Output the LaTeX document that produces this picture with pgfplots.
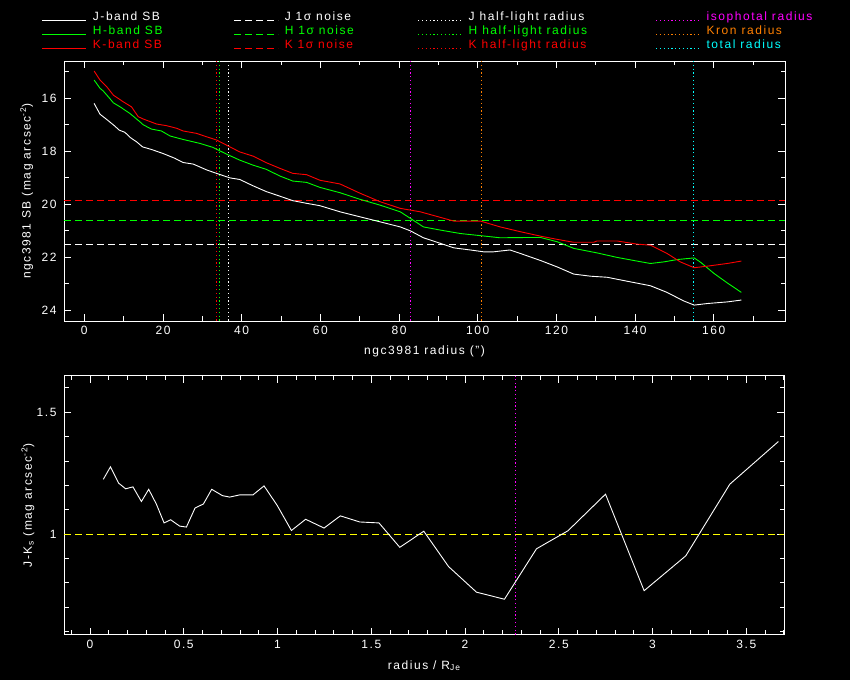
\documentclass[border=0pt]{standalone}
\usepackage{pgfplots}
\pgfplotsset{compat=1.18}
\usepackage{fontspec}
\setmainfont{Liberation Sans}[LetterSpace=13]
\definecolor{korange}{RGB}{255,128,0}
\definecolor{kmagenta}{RGB}{255,0,255}
\definecolor{kcyan}{RGB}{0,255,255}
\definecolor{kyellow}{RGB}{255,255,0}
\definecolor{kgreen}{RGB}{0,255,0}
\definecolor{kred}{RGB}{255,0,0}
\newcommand\pg{\fontsize{12bp}{14bp}\selectfont}
\newcommand\LE[3]{\makebox[#1][l]{\hspace{6bp}\textcolor{#2}{#3}}}
\pgfplotsset{
  pgstyle/.style={
    scale only axis, anchor=south west,
    axis background/.style={fill=black},
    axis line style={white, line width=0.8bp},
    tick style={white, line width=0.8bp},
    major tick length=7bp, minor tick length=4.5bp,
    tick align=inside,
    ticklabel style={white, font=\pg},
    /pgf/number format/assume math mode=true,
    label style={white, font=\pg},
    xticklabel style={yshift=-2bp},
    yticklabel style={xshift=-4bp},
  }
}
\tikzset{
  noise/.style={line width=0.9bp, dash pattern=on 7bp off 4bp},
  rad/.style={line width=0.9bp, dash pattern=on 1.2bp off 2.6bp},
  sb/.style={line width=0.9bp},
}
\begin{document}
\begin{tikzpicture}
\fill[black] (0,0) rectangle (850bp,680bp);
\begin{axis}[pgstyle,
  at={(64bp,359bp)}, width=721bp, height=260bp,
  xmin=-5.16, xmax=178.1, ymin=14.59, ymax=24.4, y dir=reverse,
  xtick={-20,0,...,180}, minor x tick num=1,
  ytick={14,16,...,26}, minor y tick num=1,
  xlabel={ngc3981 radius (")},
  ylabel={ngc3981 SB (mag arcsec\textsuperscript{-2})},
  xlabel style={at={(axis description cs:0.5,-0.118)}, anchor=center},
  ylabel style={at={(axis description cs:-0.0517,0.5)}, anchor=center},
  legend columns=4,
  legend cell align=left,
  legend style={at={(axis description cs:-0.0305,1.19)}, anchor=north west,
    draw=none, fill=none, inner sep=0pt, outer sep=0pt, font=\pg,
    nodes={inner sep=0pt, text height=9bp, text depth=3bp},
    column sep=0pt, row sep=2bp},
  legend image code/.code={\draw[#1] (0bp,-3bp) -- (44bp,-3bp);},
]
\addlegendimage{sb, white}\addlegendentry{\LE{147bp}{white}{J-band SB}}
\addlegendimage{noise, white}\addlegendentry{\LE{139bp}{white}{J 1σ noise}}
\addlegendimage{rad, white}\addlegendentry{\LE{193bp}{white}{J half-light radius}}
\addlegendimage{rad, kmagenta}\addlegendentry{\LE{120bp}{kmagenta}{isophotal radius}}
\addlegendimage{sb, kgreen}\addlegendentry{\LE{147bp}{kgreen}{H-band SB}}
\addlegendimage{noise, kgreen}\addlegendentry{\LE{139bp}{kgreen}{H 1σ noise}}
\addlegendimage{rad, kgreen}\addlegendentry{\LE{193bp}{kgreen}{H half-light radius}}
\addlegendimage{rad, korange}\addlegendentry{\LE{120bp}{korange}{Kron radius}}
\addlegendimage{sb, kred}\addlegendentry{\LE{147bp}{kred}{K-band SB}}
\addlegendimage{noise, kred}\addlegendentry{\LE{139bp}{kred}{K 1σ noise}}
\addlegendimage{rad, kred}\addlegendentry{\LE{193bp}{kred}{K half-light radius}}
\addlegendimage{rad, kcyan}\addlegendentry{\LE{120bp}{kcyan}{total radius}}
% noise levels
\addplot[noise, white, forget plot] coordinates {(-5.16,21.51) (178.1,21.51)};
\addplot[noise, kgreen, forget plot] coordinates {(-5.16,20.60) (178.1,20.60)};
\addplot[noise, kred, forget plot] coordinates {(-5.16,19.85) (178.1,19.85)};
% radii
\addplot[rad, white, forget plot] coordinates {(36.63,14.59) (36.63,24.4)};
\addplot[rad, kgreen, forget plot] coordinates {(34.34,14.59) (34.34,24.4)};
\addplot[rad, kred, forget plot] coordinates {(33.58,14.59) (33.58,24.4)};
\addplot[rad, kmagenta, forget plot] coordinates {(82.93,14.59) (82.93,24.4)};
\addplot[rad, korange, forget plot] coordinates {(101.0,14.59) (101.0,24.4)};
\addplot[rad, kcyan, forget plot] coordinates {(154.9,14.59) (154.9,24.4)};
% J band
\addplot[sb, white, forget plot] coordinates {
(2.5,16.19)(4.0,16.6)(5.3,16.75)(7.4,17.0)(8.9,17.2)(10.3,17.28)(11.8,17.49)(13.3,17.64)(14.8,17.83)(17.1,17.93)(20.0,18.08)(23.0,18.26)(25.1,18.42)(27.7,18.48)(31.1,18.70)(33.6,18.83)(37.0,19.0)(39.5,19.06)(42.9,19.3)(46.3,19.52)(49.7,19.69)(53.0,19.86)(56.5,19.96)(59.9,20.05)(65.0,20.28)(70.1,20.47)(75.2,20.66)(80.3,20.85)(82.9,21.0)(86.2,21.26)(90.5,21.47)(93.9,21.64)(98.1,21.72)(101.5,21.79)(104.0,21.79)(108.2,21.72)(110.8,21.85)(116.0,22.12)(120.2,22.36)(124.4,22.63)(128.7,22.71)(132.9,22.75)(138.0,22.9)(143.9,23.07)(148.1,23.32)(152.3,23.64)(155.0,23.8)(158.4,23.74)(163.4,23.68)(167.0,23.61)
};
% H band
\addplot[sb, kgreen, forget plot] coordinates {
(2.5,15.31)(4.0,15.62)(4.8,15.72)(6.1,15.94)(7.4,16.17)(9.1,16.32)(11.6,16.57)(14.1,16.88)(15.0,17.0)(17.1,17.16)(19.6,17.23)(21.8,17.42)(25.1,17.55)(29.4,17.70)(32.7,17.85)(36.1,18.10)(39.5,18.33)(42.9,18.52)(46.3,18.68)(49.7,18.93)(53.0,19.12)(56.5,19.17)(59.9,19.36)(65.0,19.56)(70.1,19.81)(75.2,20.03)(80.3,20.28)(82.9,20.53)(86.2,20.85)(90.5,20.97)(95.6,21.1)(100.7,21.18)(105.7,21.26)(112.5,21.25)(116.0,21.25)(120.2,21.41)(124.4,21.66)(130.3,21.83)(135.4,22.0)(140.5,22.14)(143.9,22.23)(147.3,22.17)(150.8,22.08)(155.0,22.02)(156.7,22.19)(160.0,22.6)(163.4,22.96)(167.0,23.32)
};
% K band
\addplot[sb, kred, forget plot] coordinates {
(2.5,14.97)(4.0,15.31)(5.7,15.56)(7.4,15.88)(9.9,16.13)(12.0,16.32)(13.7,16.69)(15.0,16.78)(18.4,16.97)(20.9,17.03)(23.5,17.13)(25.1,17.23)(28.5,17.32)(31.1,17.45)(33.6,17.57)(37.0,17.83)(39.5,18.02)(42.9,18.18)(46.3,18.43)(49.7,18.64)(53.0,18.83)(56.5,18.88)(59.9,19.09)(65.0,19.23)(70.1,19.58)(75.2,19.9)(80.3,20.15)(85.4,20.28)(90.5,20.49)(93.9,20.63)(100.7,20.63)(105.7,20.85)(110.8,21.03)(116.0,21.2)(120.2,21.32)(124.4,21.43)(129.5,21.43)(130.3,21.38)(135.4,21.38)(140.5,21.5)(143.9,21.54)(148.1,21.85)(151.5,22.17)(155.0,22.39)(158.4,22.33)(163.4,22.23)(167.0,22.14)
};
\end{axis}
\begin{axis}[pgstyle,
  at={(64bp,45.3bp)}, width=720.4bp, height=259bp,
  xmin=-0.1387, xmax=3.703, ymin=0.5875, ymax=1.65,
  xtick={-0.5,0,0.5,...,4}, minor x tick num=4,
  ytick={0.5,1,1.5,2}, minor y tick num=4,
  xlabel={radius / R\textsubscript{Je}},
  ylabel={J-K\textsubscript{s} (mag arcsec\textsuperscript{-2})},
  xlabel style={at={(axis description cs:0.5,-0.12)}, anchor=center},
  ylabel style={at={(axis description cs:-0.05,0.5)}, anchor=center},
]
\addplot[noise, kyellow] coordinates {(-0.1387,1) (3.703,1)};
\addplot[rad, kmagenta] coordinates {(2.267,0.5875) (2.267,1.65)};
\addplot[sb, white] coordinates {
(0.071,1.225)(0.109,1.276)(0.153,1.209)(0.19,1.186)(0.229,1.194)(0.274,1.134)(0.313,1.184)(0.354,1.123)(0.395,1.046)(0.43,1.059)(0.478,1.033)(0.514,1.029)(0.56,1.107)(0.605,1.124)(0.649,1.184)(0.706,1.158)(0.745,1.152)(0.798,1.161)(0.869,1.161)(0.928,1.198)(0.999,1.117)(1.074,1.015)(1.15,1.061)(1.248,1.025)(1.335,1.075)(1.438,1.05)(1.541,1.046)(1.652,0.946)(1.78,1.012)(1.912,0.867)(2.061,0.762)(2.21,0.733)(2.381,0.94)(2.549,1.014)(2.749,1.164)(2.955,0.768)(3.177,0.911)(3.412,1.205)(3.671,1.38)
};
\end{axis}
\pgfresetboundingbox
\useasboundingbox (0,0) rectangle (850bp,680bp);
\end{tikzpicture}
\end{document}
